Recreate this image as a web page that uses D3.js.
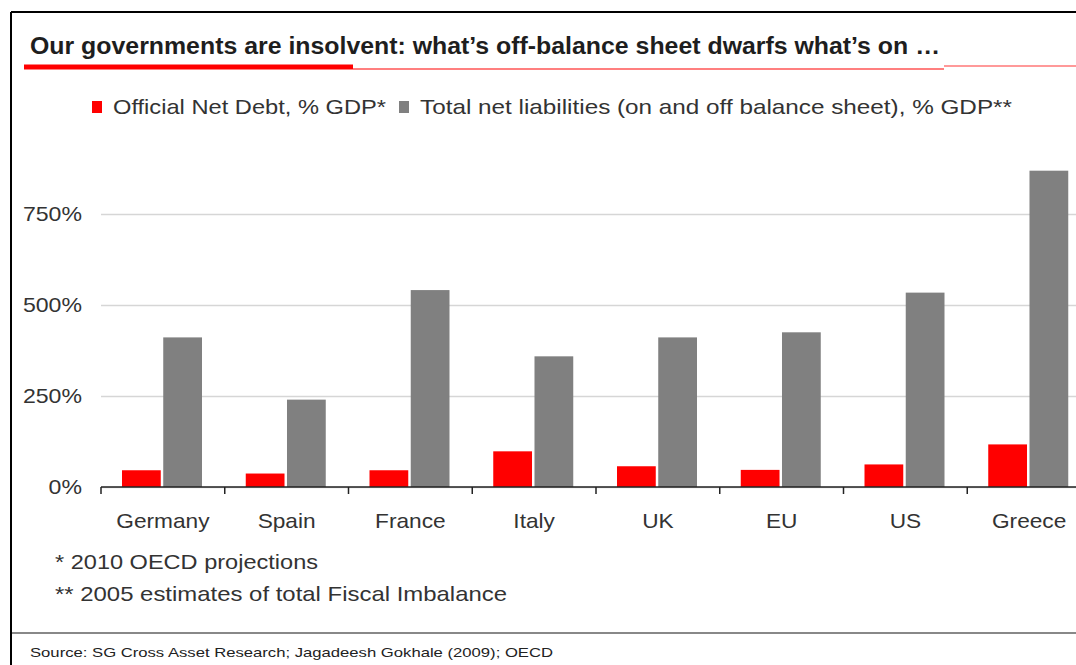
<!DOCTYPE html>
<html>
<head>
<meta charset="utf-8">
<script src="https://cdn.jsdelivr.net/npm/d3@7/dist/d3.min.js"></script>
<style>
  html, body { margin: 0; padding: 0; background: #fff; }
  svg { display: block; }
  text { font-family: "Liberation Sans", Arial, sans-serif; }
</style>
</head>
<body>
<svg id="chart" width="1076" height="665"></svg>
<script>
// Data: government net debt vs total net liabilities, % of GDP
const countries = ["Germany", "Spain", "France", "Italy", "UK", "EU", "US", "Greece"];
const officialNetDebt = [46, 37, 46, 98, 57, 47, 62, 117];
const totalNetLiabilities = [411, 240, 541, 359, 411, 425, 534, 869];
const seriesKeys = ["debt", "total"];
const seriesNames = ["Official Net Debt, % GDP*", "Total net liabilities (on and off balance sheet), % GDP**"];
const seriesColors = ["#ff0000", "#808080"];
const yTicks = [0, 250, 500, 750];

const titleText = "Our governments are insolvent: what\u2019s off-balance sheet dwarfs what\u2019s on \u2026";
const footnotes = ["* 2010 OECD projections", "** 2005 estimates of total Fiscal Imbalance"];
const sourceText = "Source: SG Cross Asset Research; Jagadeesh Gokhale (2009); OECD";

const svg = d3.select("#chart");
const W = 1076, H = 665;

// Fit a text element to a given width
function fit(sel, w) {
  sel.attr("textLength", w).attr("lengthAdjust", "spacingAndGlyphs");
  return sel;
}
// Stretch text horizontally by a factor
function stretch(sel, k) {
  sel.each(function () {
    const w = this.getComputedTextLength();
    d3.select(this).attr("textLength", w * k).attr("lengthAdjust", "spacingAndGlyphs");
  });
}

// Frame lines
svg.append("line").attr("x1", 11).attr("x2", W).attr("y1", 12).attr("y2", 12)
  .attr("stroke", "#000").attr("stroke-width", 2);
svg.append("line").attr("x1", 11).attr("x2", 11).attr("y1", 12).attr("y2", H)
  .attr("stroke", "#000").attr("stroke-width", 2);

// Title and its underline
fit(svg.append("text").attr("x", 30).attr("y", 54)
  .attr("font-size", 23).attr("font-weight", "bold").attr("fill", "#1e1e1e")
  .text(titleText), 910);
svg.append("line").attr("x1", 353).attr("x2", 944).attr("y1", 69).attr("y2", 69)
  .attr("stroke", "#f55").attr("stroke-width", 1.5);
svg.append("line").attr("x1", 944).attr("x2", W).attr("y1", 66).attr("y2", 66)
  .attr("stroke", "#f77").attr("stroke-width", 1.5);
svg.append("line").attr("x1", 24).attr("x2", 353).attr("y1", 67).attr("y2", 67)
  .attr("stroke", "#f00").attr("stroke-width", 5);

// Legend
const legendX = [92, 399];
const legendW = [273, 592];
seriesKeys.forEach((k, i) => {
  svg.append("rect").attr("x", legendX[i]).attr("y", 101).attr("width", 10).attr("height", 12)
    .attr("fill", seriesColors[i]);
  fit(svg.append("text").attr("x", legendX[i] + 21).attr("y", 114)
    .attr("font-size", 21).attr("fill", "#333").text(seriesNames[i]), legendW[i]);
});

// Scales
const x0 = d3.scaleBand().domain(countries).range([101, 1091]).paddingInner(0).paddingOuter(0);
const x1 = d3.scaleBand().domain(seriesKeys).range([21, 101]).paddingInner(0.06);
const y = d3.scaleLinear().domain([0, 750]).range([487, 214]);

// Gridlines and y labels
const yAxis = svg.append("g").attr("transform", "translate(101,0)")
  .call(d3.axisLeft(y).tickValues(yTicks).tickFormat(d => d + "%")
    .tickSize(-(W - 101)).tickPadding(19));
yAxis.select(".domain").remove();
yAxis.selectAll(".tick line").attr("stroke", "#d6d6d6").attr("stroke-width", 1.6);
yAxis.selectAll(".tick text").attr("font-size", 21).attr("fill", "#333")
  .attr("font-family", "'Liberation Sans', Arial, sans-serif")
  .call(stretch, 1.1);

// Bars
const rows = countries.map((c, i) => ({ c, vals: [officialNetDebt[i], totalNetLiabilities[i]] }));
const groups = svg.append("g").selectAll("g").data(rows).join("g")
  .attr("transform", d => `translate(${x0(d.c)},0)`);
groups.selectAll("rect")
  .data(d => seriesKeys.map((k, i) => ({ k, v: d.vals[i], color: seriesColors[i] })))
  .join("rect")
  .attr("x", d => x1(d.k))
  .attr("width", x1.bandwidth())
  .attr("y", d => y(d.v))
  .attr("height", d => y(0) - y(d.v))
  .attr("fill", d => d.color);

// X axis line, boundary ticks and labels
svg.append("line").attr("x1", 101).attr("x2", W).attr("y1", y(0)).attr("y2", y(0))
  .attr("stroke", "#222").attr("stroke-width", 1.5);
const bounds = countries.map(c => x0(c));
svg.append("g").selectAll("line").data(bounds).join("line")
  .attr("x1", d => d).attr("x2", d => d)
  .attr("y1", y(0)).attr("y2", y(0) + 7)
  .attr("stroke", "#222").attr("stroke-width", 1.5);
const xAxis = svg.append("g").attr("transform", `translate(0,${y(0)})`)
  .call(d3.axisBottom(x0).tickSize(0).tickPadding(26));
xAxis.select(".domain").remove();
xAxis.selectAll(".tick text").attr("font-size", 21).attr("fill", "#333")
  .attr("font-family", "'Liberation Sans', Arial, sans-serif")
  .call(stretch, 1.08);

// Footnotes
const footW = [263, 452];
footnotes.forEach((t, i) => {
  fit(svg.append("text").attr("x", 55).attr("y", 569 + i * 32)
    .attr("font-size", 21).attr("fill", "#333").text(t), footW[i]);
});

// Source line
svg.append("line").attr("x1", 12).attr("x2", W).attr("y1", 633).attr("y2", 633)
  .attr("stroke", "#888").attr("stroke-width", 2);
fit(svg.append("text").attr("x", 30).attr("y", 657)
  .attr("font-size", 13).attr("fill", "#222").text(sourceText), 523);
</script>
</body>
</html>
